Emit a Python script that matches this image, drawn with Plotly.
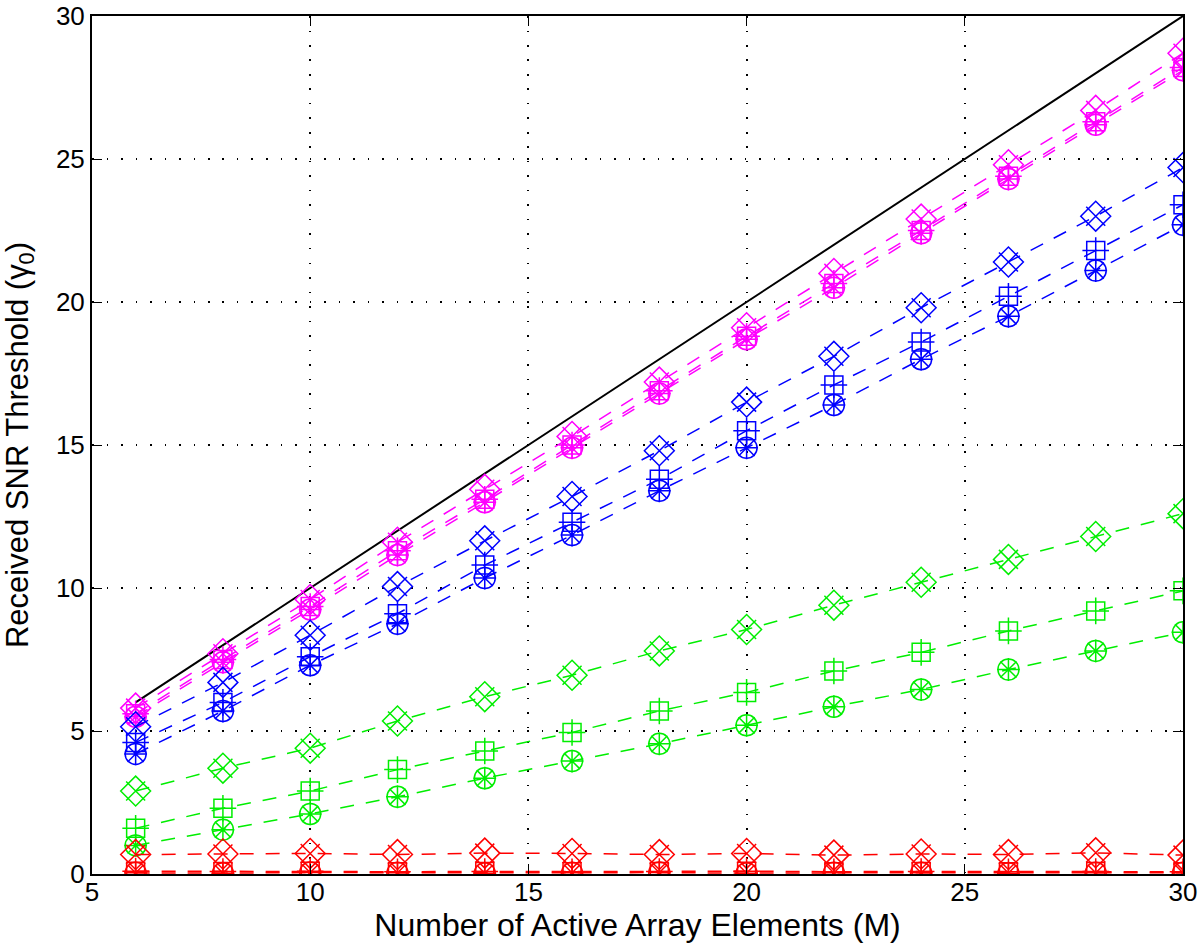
import plotly.graph_objects as go

# number of active array elements
M = [6, 8, 10, 12, 14, 16, 18, 20, 22, 24, 26, 28, 30]

# upper bound line gamma0 = M
bound_x = [6, 30]
bound_y = [6, 30]

magenta_d = [5.8, 7.7, 9.6, 11.6, 13.45, 15.3, 17.2, 19.1, 21.0, 22.9, 24.8, 26.7, 28.7]
magenta_s = [5.6, 7.5, 9.35, 11.3, 13.1, 15.0, 16.9, 18.8, 20.65, 22.5, 24.4, 26.3, 28.2]
magenta_c = [5.5, 7.4, 9.25, 11.15, 13.0, 14.9, 16.8, 18.7, 20.5, 22.4, 24.3, 26.2, 28.1]

blue_d = [5.15, 6.7, 8.35, 10.05, 11.65, 13.2, 14.8, 16.5, 18.1, 19.8, 21.4, 23.0, 24.7]
blue_s = [4.6, 6.0, 7.6, 9.1, 10.8, 12.3, 13.8, 15.5, 17.1, 18.6, 20.2, 21.8, 23.4]
blue_c = [4.2, 5.7, 7.3, 8.75, 10.35, 11.85, 13.4, 14.9, 16.4, 18.0, 19.5, 21.1, 22.7]

green_d = [2.9, 3.7, 4.4, 5.35, 6.2, 6.95, 7.8, 8.55, 9.4, 10.2, 11.0, 11.8, 12.6]
green_s = [1.6, 2.3, 2.9, 3.65, 4.3, 4.95, 5.7, 6.35, 7.1, 7.75, 8.5, 9.2, 9.9]
green_c = [1.0, 1.55, 2.1, 2.7, 3.35, 3.95, 4.55, 5.2, 5.85, 6.45, 7.15, 7.8, 8.45]

red_d = [0.68, 0.7, 0.72, 0.68, 0.73, 0.72, 0.68, 0.72, 0.66, 0.7, 0.68, 0.74, 0.66]
red_s = [0.1, 0.09, 0.1, 0.08, 0.09, 0.08, 0.09, 0.1, 0.08, 0.09, 0.08, 0.09, 0.08]
red_c = [0.04, 0.03, 0.05, 0.04, 0.03, 0.04, 0.05, 0.03, 0.04, 0.04, 0.03, 0.04, 0.04]

groups = [
    ('#ff00ff', magenta_d, magenta_s, magenta_c),
    ('#0000ff', blue_d, blue_s, blue_c),
    ('#00ee00', green_d, green_s, green_c),
    ('#ff0000', red_d, red_s, red_c),
]

fig = go.Figure()

fig.add_trace(go.Scatter(x=bound_x, y=bound_y, mode='lines',
                         line=dict(color='black', width=2), showlegend=False))

# analysis (dashed + x / + / *) and simulation (open diamond / square / circle)
for color, d, s, c in groups:
    for vals, inner, outer, osize in [(d, 'x-thin-open', 'diamond-open', 23),
                                      (s, 'cross-thin-open', 'square-open', 18),
                                      (c, 'asterisk-open', 'circle-open', 21)]:
        fig.add_trace(go.Scatter(
            x=M, y=vals, mode='lines+markers',
            line=dict(color=color, width=1.5, dash='14px,12px'),
            marker=dict(symbol=inner, size=19, color=color,
                        line=dict(color=color, width=1.5)),
            showlegend=False,
        ))
        fig.add_trace(go.Scatter(
            x=M, y=vals, mode='markers',
            marker=dict(symbol=outer, size=osize, color=color,
                        line=dict(color=color, width=1.5)),
            showlegend=False,
        ))

axis_common = dict(
    showline=True, linecolor='black', linewidth=2, mirror='ticks',
    ticks='inside', ticklen=10, tickwidth=1, tickcolor='black',
    showgrid=True, gridcolor='black', gridwidth=1.5, griddash='1.5px,13px',
    zeroline=False, automargin=False, ticklabeloverflow='allow',
    tickfont=dict(family='Liberation Sans, Arial', size=26, color='black'),
)

fig.update_xaxes(range=[5, 30], tickvals=[5, 10, 15, 20, 25, 30],
                 ticklabelstandoff=-6,
                 title=dict(text='Number of Active Array Elements (M)',
                            font=dict(family='Liberation Sans, Arial', size=32, color='black'),
                            standoff=4),
                 **axis_common)
fig.update_yaxes(range=[0, 30], tickvals=[0, 5, 10, 15, 20, 25, 30],
                 title=dict(text='Received SNR Threshold (γ<sub>0</sub>)',
                            font=dict(family='Liberation Sans, Arial', size=31, color='black'),
                            standoff=27),
                 **axis_common)

fig.update_layout(
    width=1200, height=952,
    margin=dict(l=92, r=17, t=16, b=78),
    plot_bgcolor='white', paper_bgcolor='white',
    showlegend=False,
)

# drop the default page margin so the figure fills the window exactly
fig.write_html("out.html", config={'displayModeBar': False},
               post_script="document.body.style.margin='0';")
